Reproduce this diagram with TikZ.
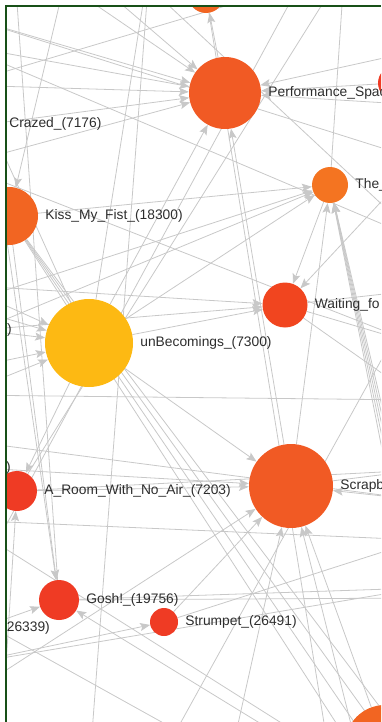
\documentclass[tikz,border=0pt]{standalone}
\usepackage{fontspec}
\setmainfont{Liberation Sans}
\usetikzlibrary{positioning,arrows.meta}
\pgfdeclarelayer{links}
\pgfsetlayers{links,main}
\definecolor{linkgray}{RGB}{200,200,200}
\definecolor{framegreen}{RGB}{24,80,24}
\definecolor{hot}{RGB}{239,59,36}
\definecolor{warm}{RGB}{241,90,36}
\definecolor{orng}{RGB}{242,101,34}
\definecolor{light}{RGB}{244,116,33}
\definecolor{gold}{RGB}{253,185,19}
\definecolor{txt}{RGB}{45,45,45}

\begin{document}
\begin{tikzpicture}[x=1pt,y=-1pt,>={Stealth[length=10pt,width=8pt,inset=2pt]},
    ball/.style={circle,inner sep=0pt,minimum size=#1},
    lbl/.style={font=\fontsize{13.8}{16}\selectfont,text=txt,inner sep=0pt},
    link/.style={draw=linkgray,line width=0.8pt},
    arr/.style={link,->}]

    \useasboundingbox (0,0) rectangle (381,722);

    \begin{scope}
    \clip (7,7) rectangle (381,722);

    % nodes
    \node[ball=36pt,fill=orng] (top) at (206,-5) {};
    \node[ball=72pt,fill=warm] (perf) at (225,93) {};
    \node[ball=34pt,fill=hot] (rt) at (395,83) {};
    \node[ball=36pt,fill=light] (the) at (330,185) {};
    \node[ball=24pt,fill=hot] (crazed) at (-10,124) {};
    \node[ball=58pt,fill=orng] (kiss) at (9,216) {};
    \node[ball=24pt,fill=hot] (paren1) at (-20,330) {};
    \node[ball=88pt,fill=gold] (unb) at (89,343) {};
    \node[ball=45pt,fill=hot!85!orange] (wait) at (285,305) {};
    \node[ball=20pt,fill=hot] (paren2) at (-20,468) {};
    \node[ball=40pt,fill=hot] (aroom) at (17,491) {};
    \node[ball=84pt,fill=warm] (scr) at (291,486) {};
    \node[ball=28pt,fill=hot] (dkn) at (-20,628) {};
    \node[ball=40pt,fill=hot] (gosh) at (59,600) {};
    \node[ball=28pt,fill=hot] (strum) at (164,622) {};
    \node[ball=80pt,fill=orng] (br) at (385,745) {};

    % labels
    \node[lbl,right=7pt of perf] {Performance\_Spac};
    \node[lbl,right=7pt of the] {The\_};
    \node[lbl,right=7pt of crazed] {Crazed\_(7176)};
    \node[lbl,right=7pt of kiss] {Kiss\_My\_Fist\_(18300)};
    \node[lbl,anchor=east] at (12,330) {)};
    \node[lbl,right=7pt of unb] {unBecomings\_(7300)};
    \node[lbl,right=7pt of wait] {Waiting\_fo};
    \node[lbl,anchor=east] at (11,468) {)};
    \node[lbl,right=7pt of aroom] {A\_Room\_With\_No\_Air\_(7203)};
    \node[lbl,right=7pt of scr] {Scrapb};
    \node[lbl,anchor=east] at (50,628) {26339)};
    \node[lbl,right=7pt of gosh] {Gosh!\_(19756)};
    \node[lbl,right=7pt of strum] {Strumpet\_(26491)};
    \end{scope}

    % off-frame ends
    \coordinate (n0) at (14,-40);
    \coordinate (n1) at (30,-40);
    \coordinate (n2) at (70,-40);
    \coordinate (n3) at (150,-40);
    \coordinate (n4) at (120,-40);
    \coordinate (n5) at (313,-40);
    \coordinate (n6) at (350,-40);
    \coordinate (n7) at (345,-40);
    \coordinate (n8) at (380,-40);
    \coordinate (e1) at (420,50);
    \coordinate (e2) at (420,105);
    \coordinate (e3) at (420,160);
    \coordinate (e4) at (420,240);
    \coordinate (e5) at (420,290);
    \coordinate (e6) at (420,345);
    \coordinate (e7) at (420,400);
    \coordinate (e8a) at (392,500);
    \coordinate (e8b) at (395,500);
    \coordinate (e8c) at (398,500);
    \coordinate (e8d) at (401,500);
    \coordinate (e8e) at (404,500);
    \coordinate (e9) at (420,500);
    \coordinate (e10) at (420,470);
    \coordinate (e11) at (420,588);
    \coordinate (e12) at (420,598);
    \coordinate (e13) at (420,540);
    \coordinate (s1) at (0,760);
    \coordinate (s2) at (90,760);
    \coordinate (s3) at (160,760);
    \coordinate (s4) at (230,760);
    \coordinate (s5) at (360,760);
    \coordinate (s6) at (330,760);
    \coordinate (s7) at (320,760);
    \coordinate (s8) at (340,760);
    \coordinate (k1) at (360,760);
    \coordinate (k2) at (380,760);
    \coordinate (k3) at (400,760);
    \coordinate (k4) at (420,760);
    \coordinate (w1) at (-40,15);
    \coordinate (w2) at (-40,45);
    \coordinate (w3) at (-40,85);
    \coordinate (w4) at (-40,165);
    \coordinate (w5) at (-40,285);
    \coordinate (w6) at (-40,305);
    \coordinate (w7) at (-40,370);
    \coordinate (w8) at (-40,395);
    \coordinate (w9) at (-40,440);
    \coordinate (w10) at (-40,520);
    \coordinate (w11) at (-40,610);
    \coordinate (w12) at (-40,665);
    \coordinate (w13) at (-40,700);

    \begin{pgfonlayer}{links}
    \begin{scope}
    \clip (7,7) rectangle (381,722);

    % into perf
    \draw[arr] (w1) -- (perf);
    \draw[arr] (w2) -- (perf);
    \draw[arr] (w3) -- (perf);
    \draw[arr] (w4) -- (perf);
    \draw[arr] (crazed) -- (perf);
    \draw[arr] (n1) -- (perf);
    \draw[arr] (n2) -- (perf);
    \draw[arr] (unb) -- (perf);
    \draw[arr] (rt) -- (perf);
    \draw[arr] (e1) -- (perf);
    \draw[arr] (e2) -- (perf);
    \draw[arr] (scr) -- (perf);
    \draw[arr] (perf) -- (top);

    % into the
    \draw[arr] (kiss) -- (the);
    \draw[arr] (w6) -- (the);
    \draw[arr] (paren1) -- (the);
    \draw[arr] (unb) -- (the);
    \draw[arr] (scr) -- (the);
    \draw[arr] (e8a) -- (the);
    \draw[arr] (e8b) -- (the);
    \draw[arr] (e8c) -- (the);
    \draw[arr] (e8d) -- (the);
    \draw[arr] (e8e) -- (the);
    \draw[link] (n7) -- (the);

    % into wait
    \draw[arr] (the) -- (wait);
    \draw[arr] (e3) -- (wait);
    \draw[arr] (unb) -- (wait);
    \draw[arr] (paren1) -- (wait);
    \draw[arr] (w5) -- (wait);
    \draw[link] (wait) -- (e5);
    \draw[link] (wait) -- (e6);
    \draw[link] (wait) -- (e7);

    % into unb
    \draw[arr] (w5) -- (unb);
    \draw[arr] (w6) -- (unb);
    \draw[arr] (w7) -- (unb);
    \draw[arr] (w8) -- (unb);
    \draw[arr] (paren1) -- (unb);
    \draw[arr] (unb) -- (crazed);
    \draw[link] (n3) -- (unb);

    % into scr
    \draw[arr] (unb) -- (scr);
    \draw[arr] (aroom) -- (scr);
    \draw[arr] (paren2) -- (scr);
    \draw[arr] (strum) -- (scr);
    \draw[arr] (s4) -- (scr);
    \draw[arr] (s5) -- (scr);
    \draw[arr] (br) -- (scr);
    \draw[arr] (e9) -- (scr);
    \draw[arr] (w13) -- (scr);
    \draw[link] (scr) -- (e10);

    % into aroom, gosh, strum
    \draw[arr] (unb) -- (aroom);
    \draw[arr] (s1) -- (aroom);
    \draw[arr] (kiss) -- (gosh);
    \draw[arr] (crazed) -- (gosh);
    \draw[arr] (dkn) -- (gosh);
    \draw[arr] (s7) -- (gosh);
    \draw[arr] (gosh) -- (n0);
    \draw[arr] (n2) -- (kiss);
    \draw[arr] (w12) -- (strum);
    \draw[link] (gosh) -- (e11);
    \draw[link] (gosh) -- (e12);
    \draw[link] (strum) -- (e13);
    \draw[link] (aroom) -- (e10);
    \draw[link] (n6) -- (aroom);

    % kiss bundle
    \draw[link] (kiss) -- (k1);
    \draw[link] (kiss) -- (k2);
    \draw[link] (kiss) -- (k3);
    \draw[link] (kiss) -- (k4);

    % passing through
    \draw[link] (top) -- (s6);
    \draw[link] (n4) -- (e4);
    \draw[link] (n5) -- (w11);
    \draw[link] (n8) -- (w3);
    \draw[link] (w2) -- (e4);
    \draw[link] (w9) -- (e9);
    \draw[link] (w10) -- (s8);
    \draw[link] (n3) -- (s2);
    \draw[link] (w8) -- (e7);
    \draw[link] (w1) -- (e3);
    \draw[link] (w4) -- (e6);
    \draw[link] (w12) -- (e11);
    \draw[link] (w11) -- (s4);
    \draw[link] (e5) -- (s3);
    \draw[link] (w10) -- (e13);
    \end{scope}
    \end{pgfonlayer}

    % frame
    \draw[framegreen,line width=2.5pt] (6,722) -- (6,6) -- (381,6);
\end{tikzpicture}
\end{document}
